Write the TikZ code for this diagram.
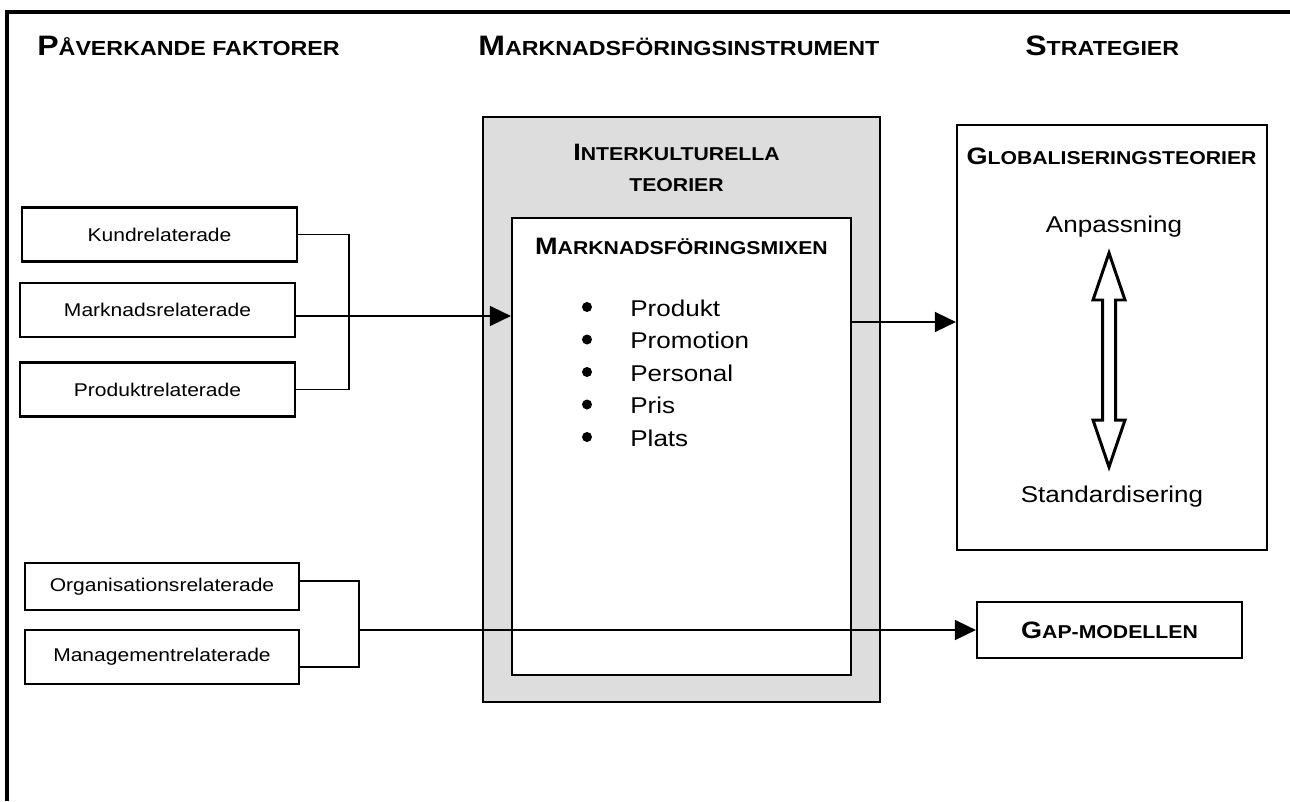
\documentclass[tikz,border=0pt]{standalone}
\usepackage{fontspec}
\setmainfont[FakeStretch=1.14]{Liberation Sans}
\usetikzlibrary{arrows.meta,positioning}

\definecolor{panelgrey}{HTML}{DDDDDD}

% Small caps made by hand: first letter large, rest small
\newcommand{\headcap}[2]{\textbf{\fontsize{16}{19}\selectfont #1\fontsize{11.6}{14}\selectfont #2}}
\newcommand{\boxcap}[2]{\textbf{\fontsize{13.5}{16}\selectfont #1\fontsize{10.6}{13}\selectfont #2}}

\tikzset{
  factor/.style={draw, line width=1.3pt, inner sep=0pt, minimum width=5.5cm, minimum height=1.08cm,
                 font=\fontsize{10.5}{12}\selectfont},
  panel/.style={draw, line width=1.3pt, inner sep=0pt},
  link/.style={line width=0.95pt},
  arrowline/.style={link, -{Triangle[length=0.42cm, width=0.4cm]}},
  bigtext/.style={font=\fontsize{13}{15}\selectfont},
}

\begin{document}
\begin{tikzpicture}[x=0.02cm, y=-0.02cm, line join=miter]

  \useasboundingbox (0,0) rectangle (1290,801);

  % Frame
  \draw [line width=2.2pt] (1290,12) -- (7,12) -- (7,801);

  % Column headings
  \node (hfaktor) [anchor=base west, inner sep=0pt] at (37,55)   {\headcap{P}{ÅVERKANDE FAKTORER}};
  \node (hinstr)  [anchor=base west, inner sep=0pt] at (478,55)  {\headcap{M}{ARKNADSFÖRINGSINSTRUMENT}};
  \node (hstrat)  [anchor=base west, inner sep=0pt] at (1025,55) {\headcap{S}{TRATEGIER}};

  % Factors
  \node (kund)    [factor] at (159.5,234.5) {Kundrelaterade};
  \node (marknad) [factor] at (157.5,310)   {Marknadsrelaterade};
  \node (produkt) [factor] at (157.5,389.5) {Produktrelaterade};
  \node (org)     [factor, minimum width=5.48cm, minimum height=0.94cm] at (162,586.5) {Organisationsrelaterade};
  \node (mgmt)    [factor, minimum width=5.48cm] at (162,657) {Managementrelaterade};

  % Instruments
  \node (kultur) [panel, fill=panelgrey, line width=1.6pt, minimum width=7.94cm, minimum height=11.7cm] at (681.5,409.5) {};
  \node (mix)    [panel, fill=white, minimum width=6.78cm, minimum height=9.14cm] at (681.5,446.5) {};
  \node (kulturtitle) [anchor=base, inner sep=0pt] at (676.5,160) {\boxcap{I}{NTERKULTURELLA}};
  \node (kulturtitle2) [anchor=base, inner sep=0pt] at (676.5,191) {\boxcap{}{TEORIER}};
  \node (mixtitle) [anchor=base, inner sep=0pt] at (681.5,254) {\boxcap{M}{ARKNADSFÖRINGSMIXEN}};

  \foreach \entry [count=\i from 0] in {Produkt,Promotion,Personal,Pris,Plats} {
    \fill (587,{307+32.5*\i}) circle [radius=0.1cm];
    \node (item\i) [bigtext, anchor=base west, inner sep=0pt] at (630,{316+32.5*\i}) {\entry};
  }

  % Strategies
  \node (glob) [panel, minimum width=6.2cm, minimum height=8.5cm] at (1112,337.5) {};
  \node (globtitle) [anchor=base, inner sep=0pt] at (1111.5,164) {\boxcap{G}{LOBALISERINGSTEORIER}};
  \node (anpass) [bigtext, anchor=base, inner sep=0pt] at (1114,232) {Anpassning};
  \node (standard) [bigtext, anchor=base, inner sep=0pt] at (1112,502) {Standardisering};
  \draw [line width=1.7pt, fill=white]
    (1109,253) -- (1125,300) -- (1115.5,300) -- (1115.5,420) -- (1125,420) -- (1109,467)
    -- (1093,420) -- (1102.5,420) -- (1102.5,300) -- (1093,300) -- cycle;

  \node (gap) [panel, minimum width=5.3cm, minimum height=1.12cm] at (1109.5,630) {\boxcap{G}{AP-MODELLEN}};

  % Connectors
  \draw [link] (kund.east) -- ++(51,0) |- (produkt.east);
  \draw [arrowline] ([yshift=-0.12cm]marknad.east) -- ([yshift=-0.12cm]marknad.east -| mix.west);
  \draw [arrowline] (mix.east |- 0,322) -- (glob.west |- 0,322);

  \coordinate (ojoin) at (358,630);
  \draw [link] ([yshift=0.11cm]org.east) -- ++(59,0) |- ([yshift=-0.2cm]mgmt.east);
  \draw [arrowline] (ojoin) -- (gap.west);

\end{tikzpicture}
\end{document}
